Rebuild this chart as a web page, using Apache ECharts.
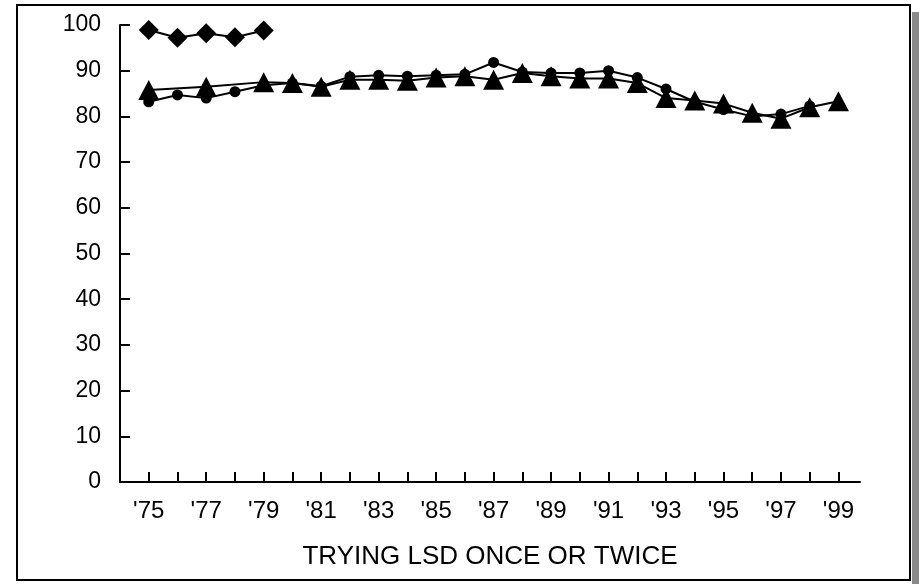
<!DOCTYPE html>
<html>
<head>
<meta charset="utf-8">
<script src="https://cdn.jsdelivr.net/npm/echarts@6/dist/echarts.min.js"></script>
<style>
html,body{margin:0;padding:0;background:#fff;}
#chart{width:919px;height:584px;}
</style>
</head>
<body>
<div id="chart"></div>
<script>
// Data
const diamondYears = [1975, 1976, 1977, 1978, 1979];
const diamondValues = [98.9, 97.2, 98.2, 97.3, 98.8];

const circleYears = [1975, 1976, 1977, 1978, 1979, 1980, 1981, 1982, 1983, 1984, 1985, 1986, 1987, 1988, 1989, 1990, 1991, 1992, 1993, 1994, 1995, 1996, 1997, 1998];
const circleValues = [83.2, 84.7, 84.0, 85.4, 86.8, 87.3, 86.6, 88.7, 89.0, 88.8, 89.0, 89.2, 91.8, 89.7, 89.5, 89.5, 90.0, 88.5, 86.0, 83.2, 81.5, 80.0, 80.5, 82.3];

const triangleYears = [1975, 1977, 1979, 1980, 1981, 1982, 1983, 1984, 1985, 1986, 1987, 1988, 1989, 1990, 1991, 1992, 1993, 1994, 1995, 1996, 1997, 1998, 1999];
const triangleValues = [85.8, 86.5, 87.5, 87.3, 86.5, 88.0, 88.0, 87.8, 88.5, 88.8, 88.0, 89.5, 88.8, 88.3, 88.3, 87.3, 84.0, 83.5, 82.8, 80.8, 79.5, 82.0, 83.3];

const tickYears = [1975, 1976, 1977, 1978, 1979, 1980, 1981, 1982, 1983, 1984, 1985, 1986, 1987, 1988, 1989, 1990, 1991, 1992, 1993, 1994, 1995, 1996, 1997, 1998, 1999];
const labelYears = [1975, 1977, 1979, 1981, 1983, 1985, 1987, 1989, 1991, 1993, 1995, 1997, 1999];
const xAxisTitle = 'TRYING LSD ONCE OR TWICE';

const zip = (xs, ys) => xs.map((x, i) => [x, ys[i]]);
const FONT = 'Liberation Sans, Arial, Helvetica, sans-serif';

const chart = echarts.init(document.getElementById('chart'), null, {renderer: 'canvas'});
chart.setOption({
  animation: false,
  backgroundColor: '#fff',
  grid: {left: 120, right: 59, top: 25, bottom: 102, containLabel: false},
  xAxis: {
    type: 'value',
    min: 1974,
    max: 1999.75,
    interval: 1,
    name: xAxisTitle,
    nameLocation: 'middle',
    nameGap: 62,
    nameTextStyle: {color: '#000', fontSize: 26, fontFamily: FONT},
    axisLine: {show: true, onZero: false, lineStyle: {color: '#000', width: 2}},
    axisTick: {show: true, inside: true, length: 10, lineStyle: {color: '#000', width: 2}, customValues: tickYears},
    axisLabel: {
      color: '#000', fontSize: 24, fontFamily: FONT, margin: 17,
      customValues: labelYears,
      formatter: v => "'" + String(v).slice(2)
    },
    splitLine: {show: false}
  },
  yAxis: {
    type: 'value',
    min: 0,
    max: 100,
    interval: 10,
    axisLine: {show: true, lineStyle: {color: '#000', width: 2}},
    axisTick: {show: true, inside: true, length: 10, lineStyle: {color: '#000', width: 2}},
    axisLabel: {color: '#000', fontSize: 23, fontFamily: FONT, margin: 19},
    splitLine: {show: false}
  },
  graphic: [
    {type: 'rect', shape: {x: 17, y: 5, width: 893, height: 575}, style: {fill: 'none', stroke: '#000', lineWidth: 2}, z: 10},
    {type: 'rect', shape: {x: 912, y: 12, width: 7, height: 572}, style: {fill: '#8a8a8a'}, z: 10}
  ],
  series: [
    {
      type: 'line', data: zip(diamondYears, diamondValues),
      symbol: 'diamond', symbolSize: [20, 20], showAllSymbol: true,
      lineStyle: {color: '#000', width: 2}, itemStyle: {color: '#000'}
    },
    {
      type: 'line', data: zip(circleYears, circleValues),
      symbol: 'circle', symbolSize: 11, showAllSymbol: true,
      lineStyle: {color: '#000', width: 2}, itemStyle: {color: '#000'}
    },
    {
      type: 'line', data: zip(triangleYears, triangleValues),
      symbol: 'triangle', symbolSize: [21, 20], showAllSymbol: true,
      lineStyle: {color: '#000', width: 2}, itemStyle: {color: '#000'}
    }
  ]
});
</script>
</body>
</html>
